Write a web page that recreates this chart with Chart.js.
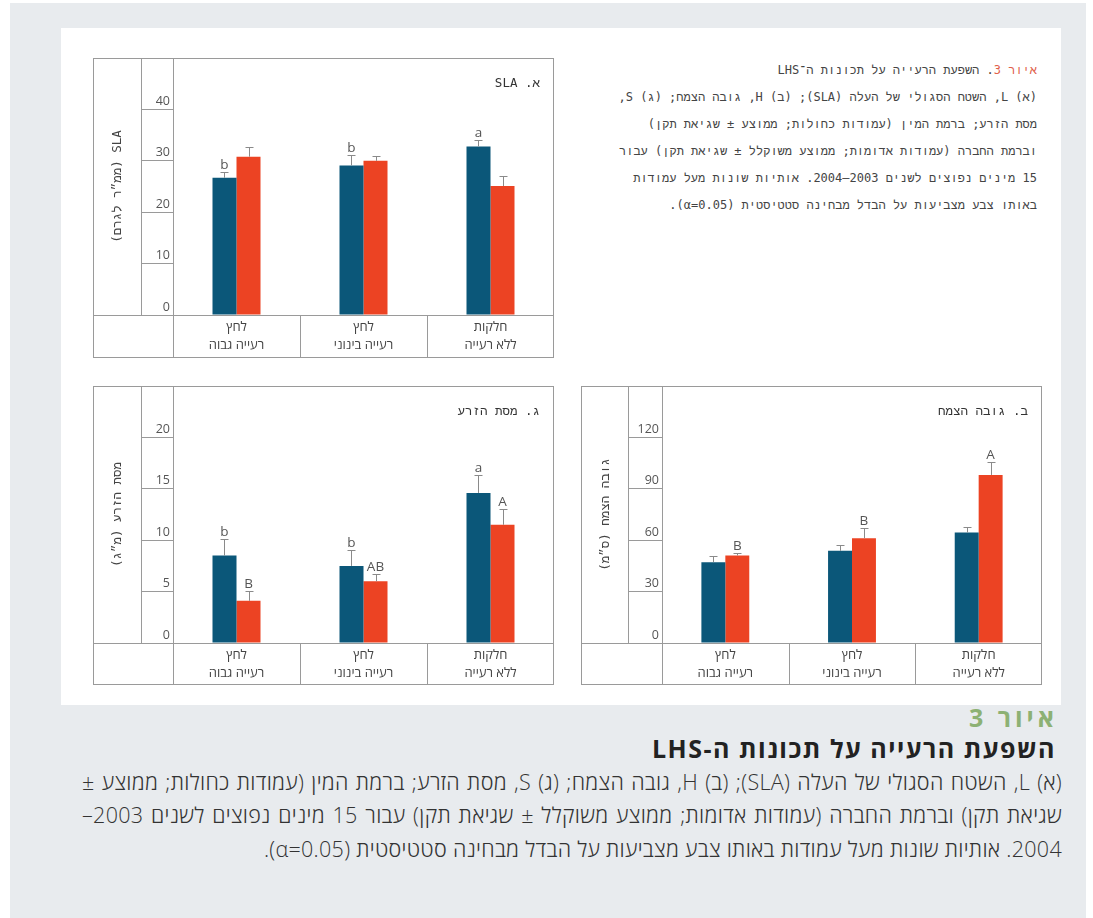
<!DOCTYPE html>
<html lang="he">
<head>
<meta charset="utf-8">
<script src="https://cdn.jsdelivr.net/npm/chart.js@4.4.1/dist/chart.umd.min.js"></script>
<style>
  body { margin: 0; width: 1093px; height: 918px; background: #fff; position: relative; overflow: hidden; }
  #bg { position: absolute; left: 10px; top: 3px; width: 1076px; height: 915px; background: #e8ebee; }
  #sheet { position: absolute; left: 61px; top: 28px; width: 1000px; height: 677px; background: #fff; }
  canvas { position: absolute; direction: rtl; }
  #note { position: absolute; left: 560px; top: 57px; width: 477px; text-align: right;
          font: 12px "DejaVu Sans Mono", "Liberation Mono", monospace; line-height: 27px; color: #444; white-space: nowrap; }
  #note .red { color: #e0604a; }
  .cap { position: absolute; left: 60px; width: 1002px; text-align: right; white-space: nowrap; }
  #capNum { top: 700px; width: 998px; font: bold 25px "Open Sans", "Liberation Sans", sans-serif; color: #8db174; letter-spacing: 4px; line-height: 34px; }
  #capTitle { top: 732px; width: 996px; font: bold 25px "Open Sans", "Liberation Sans", sans-serif; color: #222; letter-spacing: 1.5px; line-height: 32px; }
  .body { font: 300 21.5px "Open Sans", "Liberation Sans", sans-serif; letter-spacing: 0.3px; color: #333; line-height: 33px; }
  .just { left: 82px; width: 980px; text-align: justify; text-align-last: justify; }
</style>
</head>
<body>
<div id="bg"></div>
<div id="sheet"></div>

<canvas id="chartA"></canvas>
<canvas id="chartS"></canvas>
<canvas id="chartH"></canvas>

<div id="note" dir="rtl"><span class="red">איור 3</span>. השפעת הרעייה על תכונות ה־LHS<br>(א) L, השטח הסגולי של העלה (SLA); (ב) H, גובה הצמח; (ג) S,<br>מסת הזרע; ברמת המין (עמודות כחולות; ממוצע ± שגיאת תקן)<br>וברמת החברה (עמודות אדומות; ממוצע משוקלל ± שגיאת תקן) עבור<br>15 מינים נפוצים לשנים 2003–2004. אותיות שונות מעל עמודות<br>באותו צבע מצביעות על הבדל מבחינה סטטיסטית (α=0.05).</div>

<div id="capNum" class="cap" dir="rtl">איור 3</div>
<div id="capTitle" class="cap" dir="rtl">השפעת הרעייה על תכונות ה-LHS</div>
<div class="cap body just" dir="rtl" style="top:765px">(א) L, השטח הסגולי של העלה (SLA); (ב) H, גובה הצמח; (ג) S, מסת הזרע; ברמת המין (עמודות כחולות; ממוצע ±</div>
<div class="cap body just" dir="rtl" style="top:798px">שגיאת תקן) וברמת החברה (עמודות אדומות; ממוצע משוקלל ± שגיאת תקן) עבור 15 מינים נפוצים לשנים 2003–</div>
<div class="cap body" dir="rtl" style="top:832px">2004. אותיות שונות מעל עמודות באותו צבע מצביעות על הבדל מבחינה סטטיסטית (α=0.05).</div>

<script>
// categories (left to right as in the figure)
const categories = [['לחץ', 'רעייה גבוה'], ['לחץ', 'רעייה בינוני'], ['חלקות', 'ללא רעייה']];

// א. SLA
const slaBlue = [26.7, 29.1, 32.8];
const slaBlueErr = [1.2, 2.0, 1.3];
const slaRed = [30.8, 30.0, 25.1];
const slaRedErr = [1.9, 1.0, 1.9];
const slaBlueLetters = ['b', 'b', 'a'];
const slaRedLetters = ['', '', ''];
const slaTicks = [0, 10, 20, 30, 40];

// ג. מסת הזרע
const seedBlue = [8.5, 7.5, 14.6];
const seedBlueErr = [1.6, 1.5, 1.7];
const seedRed = [4.1, 6.0, 11.5];
const seedRedErr = [1.0, 0.7, 1.5];
const seedBlueLetters = ['b', 'b', 'a'];
const seedRedLetters = ['B', 'AB', 'A'];
const seedTicks = [0, 5, 10, 15, 20];

// ב. גובה הצמח
const hBlue = [47.2, 53.8, 64.5];
const hBlueErr = [3.3, 3.3, 3.3];
const hRed = [51.1, 61.2, 98.1];
const hRedErr = [1.3, 5.9, 7.4];
const hBlueLetters = ['', '', ''];
const hRedLetters = ['B', 'B', 'A'];
const hTicks = [0, 30, 60, 90, 120];

const BLUE = '#0b5779';
const RED = '#ec4323';
const LINE = '#9a9a9a';
const sans = '"Open Sans", "Liberation Sans", sans-serif';
const mono = '"DejaVu Sans Mono", "Liberation Mono", monospace';
// right-to-left embedding so mixed Hebrew/Latin strings come out in the right order on canvas
const rtl = s => '\u202B' + s + '\u202C';

// draws the table-like frame, error bars, letters and panel title
const framePlugin = {
  id: 'frame',
  afterDraw(chart) {
    const p = chart.options.plugins.frame;
    const {ctx, chartArea: a} = chart;
    const xs = chart.scales.x, ys = chart.scales.y;
    const L = a.left - p.axisW, R = a.right, T = a.top, B = a.bottom + p.xH;
    const line = (x1, y1, x2, y2) => { ctx.beginPath(); ctx.moveTo(x1, y1); ctx.lineTo(x2, y2); ctx.stroke(); };
    ctx.save();
    ctx.strokeStyle = LINE;
    ctx.lineWidth = 1;
    ctx.strokeRect(L + 0.5, T + 0.5, R - L - 1, B - T - 1);
    line(L + p.divW + 0.5, T, L + p.divW + 0.5, a.bottom);
    line(a.left + 0.5, T, a.left + 0.5, B);
    line(L, a.bottom + 0.5, R, a.bottom + 0.5);
    for (let i = 1; i < xs.ticks.length; i++) {
      const xp = Math.round((xs.getPixelForTick(i - 1) + xs.getPixelForTick(i)) / 2) + 0.5;
      line(xp, a.bottom, xp, B);
    }

    ctx.strokeStyle = '#8a8a8a';
    ctx.fillStyle = '#555';
    ctx.font = '13.5px ' + sans;
    ctx.textAlign = 'center';
    ctx.textBaseline = 'alphabetic';
    chart.data.datasets.forEach((ds, di) => {
      chart.getDatasetMeta(di).data.forEach((bar, i) => {
        const yTop = Math.round(ys.getPixelForValue(ds.data[i] + ds.err[i])) + 0.5;
        const cx = Math.round(bar.x) + 0.5;
        line(cx, bar.y, cx, yTop);
        line(cx - 4, yTop, cx + 4, yTop);
        if (ds.letters[i]) ctx.fillText(ds.letters[i], bar.x, yTop - 4);
      });
    });

    ctx.fillStyle = '#333';
    ctx.font = '12.5px ' + mono;
    ctx.textAlign = 'right';
    ctx.textBaseline = 'middle';
    ctx.fillText(rtl(p.title), a.right - 14, T + 26);
    ctx.restore();
  }
};

function makePanel(id, box, geo, title, yTitle, yMax, step, ticks, blue, blueErr, blueLetters, red, redErr, redLetters) {
  const cv = document.getElementById(id);
  cv.width = box.w + 2;
  cv.height = box.h + 2;
  cv.style.left = (box.x - 1) + 'px';
  cv.style.top = (box.y - 1) + 'px';
  return new Chart(cv, {
    type: 'bar',
    data: {
      labels: categories,
      datasets: [
        { data: blue, err: blueErr, letters: blueLetters, backgroundColor: BLUE },
        { data: red, err: redErr, letters: redLetters, backgroundColor: RED }
      ]
    },
    options: {
      responsive: false,
      animation: false,
      layout: { padding: 1 },
      datasets: { bar: { categoryPercentage: 0.378, barPercentage: 1 } },
      plugins: {
        legend: { display: false },
        tooltip: { enabled: false },
        frame: { title: title, axisW: geo.axisW, divW: geo.divW, xH: geo.xH }
      },
      scales: {
        x: {
          afterFit: s => { s.height = geo.xH; },
          grid: { display: false, drawTicks: false },
          border: { display: false },
          ticks: { color: '#444', padding: 3, font: { family: sans, size: 13, lineHeight: 1.4 }, maxRotation: 0 }
        },
        y: {
          min: 0,
          max: yMax,
          afterFit: s => { s.width = geo.axisW; },
          grid: { drawOnChartArea: false, color: LINE, tickLength: geo.axisW - geo.divW },
          border: { display: false },
          ticks: {
            stepSize: step,
            color: '#555',
            padding: 3 - (geo.axisW - geo.divW),
            labelOffset: -8,
            font: { family: sans, size: 12.5 },
            callback: v => ticks.includes(v) ? v : ''
          },
          title: {
            display: true,
            text: rtl(yTitle),
            color: '#444',
            font: { family: mono, size: 12.5 },
            padding: { top: 17, bottom: 0 }
          }
        }
      }
    },
    plugins: [framePlugin]
  });
}

makePanel('chartA', { x: 93, y: 58, w: 461, h: 300 }, { axisW: 80, divW: 48, xH: 43 },
  'א. SLA', 'SLA (ממ״ר לגרם)', 50, 10, slaTicks,
  slaBlue, slaBlueErr, slaBlueLetters, slaRed, slaRedErr, slaRedLetters);

makePanel('chartS', { x: 93, y: 386, w: 461, h: 299 }, { axisW: 80, divW: 48, xH: 42 },
  'ג. מסת הזרע', 'מסת הזרע (מ״ג)', 25, 5, seedTicks,
  seedBlue, seedBlueErr, seedBlueLetters, seedRed, seedRedErr, seedRedLetters);

makePanel('chartH', { x: 581, y: 386, w: 461, h: 299 }, { axisW: 81, divW: 47, xH: 42 },
  'ב. גובה הצמח', 'גובה הצמח (ס״מ)', 150, 30, hTicks,
  hBlue, hBlueErr, hBlueLetters, hRed, hRedErr, hRedLetters);
</script>
</body>
</html>
